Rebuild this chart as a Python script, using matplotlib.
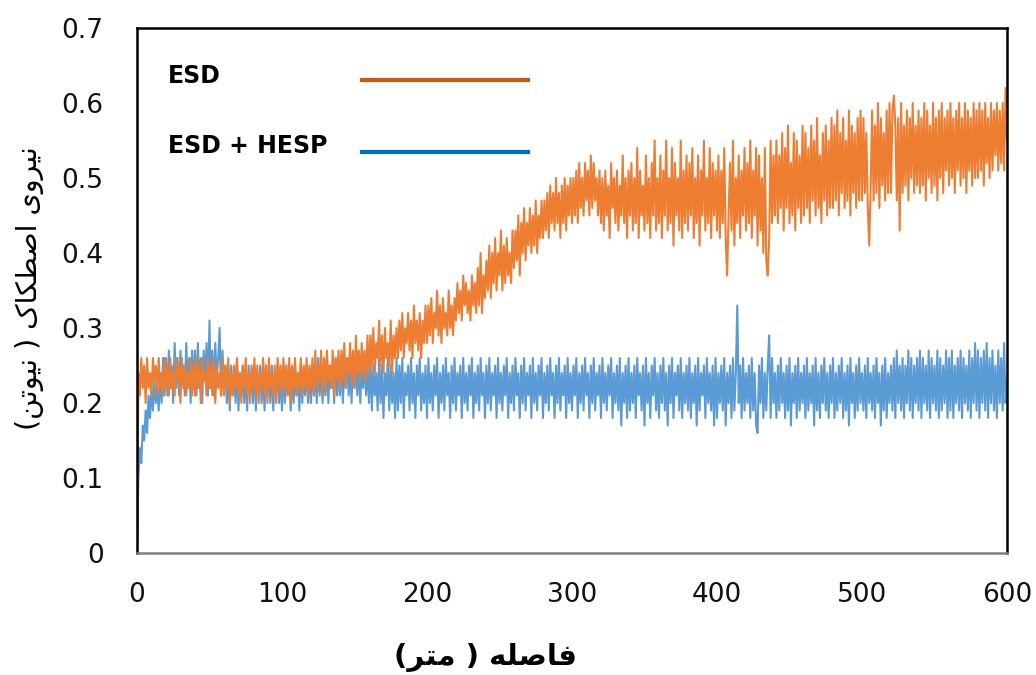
import numpy as np
import matplotlib.pyplot as plt

# distance in metres, one reading per metre
distance = np.arange(0, 601, 1)

# friction force (N), ESD coating; one row = 20 m
esd = [
    0.00, 0.24, 0.21, 0.26, 0.22, 0.25, 0.20, 0.26, 0.22, 0.24, 0.21, 0.26, 0.23, 0.25, 0.21, 0.26, 0.22, 0.24, 0.21, 0.26,
    0.22, 0.25, 0.21, 0.26, 0.22, 0.24, 0.21, 0.26, 0.23, 0.25, 0.20, 0.26, 0.22, 0.25, 0.21, 0.24, 0.22, 0.26, 0.21, 0.25,
    0.21, 0.26, 0.22, 0.25, 0.20, 0.26, 0.23, 0.24, 0.21, 0.26, 0.22, 0.25, 0.21, 0.26, 0.20, 0.25, 0.22, 0.24, 0.21, 0.26,
    0.21, 0.25, 0.22, 0.26, 0.20, 0.24, 0.21, 0.25, 0.22, 0.26, 0.21, 0.24, 0.20, 0.25, 0.22, 0.26, 0.21, 0.24, 0.20, 0.25,
    0.22, 0.26, 0.21, 0.25, 0.20, 0.24, 0.22, 0.26, 0.21, 0.25, 0.20, 0.26, 0.22, 0.24, 0.21, 0.25, 0.20, 0.26, 0.22, 0.25,
    0.21, 0.26, 0.22, 0.25, 0.21, 0.26, 0.20, 0.25, 0.22, 0.26, 0.21, 0.24, 0.22, 0.26, 0.21, 0.25, 0.22, 0.26, 0.21, 0.25,
    0.22, 0.26, 0.21, 0.27, 0.22, 0.25, 0.23, 0.27, 0.21, 0.26, 0.22, 0.27, 0.23, 0.25, 0.22, 0.27, 0.21, 0.26, 0.23, 0.27,
    0.22, 0.27, 0.23, 0.28, 0.22, 0.26, 0.24, 0.28, 0.23, 0.27, 0.22, 0.29, 0.24, 0.27, 0.23, 0.28, 0.24, 0.27, 0.23, 0.29,
    0.24, 0.29, 0.25, 0.30, 0.24, 0.28, 0.26, 0.31, 0.25, 0.29, 0.24, 0.30, 0.26, 0.28, 0.25, 0.31, 0.24, 0.29, 0.26, 0.30,
    0.26, 0.31, 0.27, 0.32, 0.26, 0.30, 0.28, 0.32, 0.27, 0.31, 0.26, 0.33, 0.28, 0.31, 0.27, 0.32, 0.26, 0.31, 0.28, 0.33,
    0.28, 0.33, 0.29, 0.34, 0.28, 0.32, 0.30, 0.35, 0.29, 0.33, 0.28, 0.34, 0.30, 0.32, 0.29, 0.35, 0.30, 0.33, 0.29, 0.34,
    0.31, 0.36, 0.32, 0.35, 0.31, 0.37, 0.33, 0.36, 0.32, 0.35, 0.31, 0.37, 0.33, 0.36, 0.32, 0.38, 0.33, 0.40, 0.32, 0.37,
    0.34, 0.39, 0.35, 0.41, 0.34, 0.40, 0.36, 0.42, 0.35, 0.40, 0.37, 0.43, 0.35, 0.41, 0.36, 0.42, 0.37, 0.40, 0.36, 0.43,
    0.38, 0.43, 0.39, 0.45, 0.37, 0.44, 0.40, 0.46, 0.39, 0.44, 0.41, 0.46, 0.40, 0.45, 0.41, 0.47, 0.40, 0.45, 0.42, 0.47,
    0.42, 0.47, 0.43, 0.48, 0.42, 0.49, 0.44, 0.48, 0.43, 0.50, 0.44, 0.48, 0.42, 0.49, 0.44, 0.50, 0.43, 0.49, 0.45, 0.50,
    0.44, 0.50, 0.45, 0.51, 0.44, 0.52, 0.46, 0.50, 0.45, 0.52, 0.47, 0.51, 0.45, 0.53, 0.46, 0.52, 0.47, 0.50, 0.45, 0.51,
    0.44, 0.50, 0.43, 0.51, 0.45, 0.49, 0.42, 0.52, 0.46, 0.50, 0.44, 0.51, 0.43, 0.49, 0.45, 0.53, 0.44, 0.50, 0.42, 0.51,
    0.45, 0.52, 0.43, 0.50, 0.44, 0.54, 0.42, 0.51, 0.45, 0.49, 0.43, 0.53, 0.44, 0.50, 0.42, 0.52, 0.45, 0.55, 0.43, 0.50,
    0.44, 0.53, 0.42, 0.51, 0.45, 0.55, 0.43, 0.50, 0.44, 0.54, 0.41, 0.52, 0.45, 0.50, 0.43, 0.55, 0.42, 0.51, 0.44, 0.53,
    0.43, 0.52, 0.45, 0.54, 0.42, 0.50, 0.44, 0.53, 0.41, 0.51, 0.45, 0.55, 0.43, 0.50, 0.44, 0.54, 0.42, 0.52, 0.45, 0.51,
    0.43, 0.53, 0.42, 0.51, 0.44, 0.54, 0.42, 0.37, 0.45, 0.52, 0.43, 0.55, 0.41, 0.50, 0.44, 0.53, 0.42, 0.51, 0.45, 0.54,
    0.43, 0.52, 0.44, 0.55, 0.42, 0.51, 0.45, 0.54, 0.41, 0.53, 0.43, 0.50, 0.40, 0.54, 0.39, 0.37, 0.42, 0.55, 0.44, 0.53,
    0.45, 0.55, 0.44, 0.53, 0.46, 0.56, 0.43, 0.54, 0.46, 0.57, 0.44, 0.52, 0.45, 0.56, 0.43, 0.55, 0.46, 0.53, 0.44, 0.57,
    0.45, 0.56, 0.46, 0.54, 0.44, 0.57, 0.47, 0.55, 0.45, 0.58, 0.46, 0.53, 0.44, 0.56, 0.47, 0.57, 0.45, 0.55, 0.46, 0.58,
    0.46, 0.57, 0.47, 0.59, 0.45, 0.56, 0.48, 0.58, 0.46, 0.55, 0.47, 0.59, 0.45, 0.57, 0.48, 0.56, 0.46, 0.58, 0.47, 0.59,
    0.47, 0.58, 0.48, 0.56, 0.46, 0.41, 0.49, 0.59, 0.47, 0.57, 0.48, 0.60, 0.46, 0.58, 0.49, 0.56, 0.47, 0.59, 0.48, 0.60,
    0.48, 0.59, 0.61, 0.57, 0.47, 0.58, 0.43, 0.60, 0.48, 0.57, 0.49, 0.59, 0.47, 0.58, 0.50, 0.60, 0.48, 0.57, 0.49, 0.59,
    0.48, 0.58, 0.49, 0.60, 0.47, 0.59, 0.50, 0.57, 0.48, 0.60, 0.49, 0.58, 0.47, 0.59, 0.50, 0.60, 0.48, 0.58, 0.51, 0.59,
    0.49, 0.60, 0.50, 0.58, 0.48, 0.59, 0.51, 0.60, 0.49, 0.58, 0.50, 0.60, 0.48, 0.59, 0.51, 0.58, 0.49, 0.60, 0.50, 0.59,
    0.50, 0.60, 0.51, 0.59, 0.49, 0.60, 0.52, 0.58, 0.50, 0.60, 0.51, 0.59, 0.53, 0.60, 0.51, 0.59, 0.52, 0.60, 0.51, 0.62,
    0.55,
]

# friction force (N), ESD + HESP coating; one row = 20 m
esd_hesp = [
    0.00, 0.10, 0.14, 0.12, 0.17, 0.15, 0.19, 0.16, 0.21, 0.18, 0.22, 0.19, 0.23, 0.20, 0.22, 0.19, 0.24, 0.20, 0.26, 0.21,
    0.26, 0.21, 0.27, 0.22, 0.25, 0.20, 0.28, 0.22, 0.26, 0.21, 0.27, 0.23, 0.25, 0.21, 0.28, 0.22, 0.26, 0.20, 0.27, 0.22,
    0.27, 0.21, 0.28, 0.22, 0.26, 0.20, 0.27, 0.23, 0.28, 0.21, 0.31, 0.22, 0.27, 0.21, 0.28, 0.23, 0.26, 0.30, 0.21, 0.27,
    0.22, 0.25, 0.20, 0.24, 0.19, 0.25, 0.21, 0.24, 0.20, 0.25, 0.19, 0.24, 0.21, 0.25, 0.20, 0.24, 0.19, 0.25, 0.21, 0.24,
    0.20, 0.25, 0.19, 0.24, 0.21, 0.25, 0.20, 0.24, 0.19, 0.25, 0.21, 0.24, 0.20, 0.25, 0.19, 0.24, 0.21, 0.25, 0.20, 0.24,
    0.19, 0.25, 0.20, 0.24, 0.21, 0.25, 0.19, 0.24, 0.20, 0.25, 0.21, 0.24, 0.19, 0.25, 0.20, 0.24, 0.21, 0.25, 0.20, 0.24,
    0.20, 0.25, 0.21, 0.24, 0.20, 0.26, 0.21, 0.25, 0.20, 0.24, 0.21, 0.26, 0.20, 0.25, 0.22, 0.24, 0.20, 0.26, 0.21, 0.25,
    0.21, 0.26, 0.20, 0.25, 0.22, 0.26, 0.21, 0.25, 0.20, 0.26, 0.22, 0.25, 0.21, 0.26, 0.20, 0.25, 0.22, 0.26, 0.21, 0.25,
    0.20, 0.26, 0.19, 0.25, 0.21, 0.24, 0.19, 0.26, 0.20, 0.25, 0.18, 0.24, 0.21, 0.26, 0.19, 0.25, 0.20, 0.24, 0.18, 0.26,
    0.19, 0.25, 0.20, 0.26, 0.18, 0.24, 0.21, 0.25, 0.19, 0.26, 0.20, 0.24, 0.18, 0.25, 0.21, 0.26, 0.19, 0.24, 0.20, 0.25,
    0.18, 0.26, 0.20, 0.24, 0.19, 0.25, 0.21, 0.26, 0.18, 0.24, 0.20, 0.25, 0.19, 0.26, 0.21, 0.24, 0.18, 0.25, 0.20, 0.26,
    0.19, 0.24, 0.21, 0.25, 0.18, 0.26, 0.20, 0.24, 0.19, 0.25, 0.21, 0.26, 0.18, 0.24, 0.20, 0.25, 0.19, 0.26, 0.21, 0.24,
    0.18, 0.25, 0.20, 0.26, 0.19, 0.24, 0.21, 0.25, 0.18, 0.26, 0.20, 0.24, 0.19, 0.25, 0.21, 0.26, 0.18, 0.24, 0.20, 0.25,
    0.19, 0.26, 0.21, 0.24, 0.18, 0.25, 0.20, 0.26, 0.19, 0.24, 0.21, 0.25, 0.18, 0.26, 0.20, 0.24, 0.19, 0.25, 0.21, 0.26,
    0.18, 0.24, 0.20, 0.25, 0.19, 0.26, 0.21, 0.24, 0.18, 0.25, 0.20, 0.26, 0.19, 0.24, 0.21, 0.25, 0.18, 0.26, 0.20, 0.24,
    0.19, 0.25, 0.21, 0.26, 0.18, 0.24, 0.20, 0.25, 0.19, 0.26, 0.21, 0.24, 0.18, 0.25, 0.20, 0.26, 0.19, 0.24, 0.21, 0.25,
    0.18, 0.26, 0.20, 0.24, 0.19, 0.25, 0.21, 0.26, 0.18, 0.24, 0.20, 0.25, 0.19, 0.26, 0.17, 0.24, 0.20, 0.25, 0.18, 0.26,
    0.19, 0.24, 0.20, 0.25, 0.18, 0.26, 0.21, 0.24, 0.19, 0.25, 0.17, 0.26, 0.20, 0.24, 0.18, 0.25, 0.21, 0.26, 0.19, 0.24,
    0.18, 0.25, 0.20, 0.26, 0.19, 0.24, 0.17, 0.25, 0.20, 0.26, 0.18, 0.24, 0.21, 0.25, 0.19, 0.26, 0.18, 0.24, 0.20, 0.25,
    0.19, 0.26, 0.18, 0.24, 0.20, 0.25, 0.17, 0.26, 0.19, 0.24, 0.21, 0.25, 0.18, 0.26, 0.20, 0.24, 0.19, 0.25, 0.17, 0.26,
    0.18, 0.24, 0.20, 0.25, 0.19, 0.26, 0.17, 0.24, 0.20, 0.25, 0.18, 0.26, 0.19, 0.24, 0.33, 0.20, 0.25, 0.18, 0.26, 0.19,
    0.24, 0.20, 0.25, 0.18, 0.26, 0.19, 0.24, 0.17, 0.16, 0.25, 0.20, 0.26, 0.18, 0.24, 0.19, 0.25, 0.29, 0.18, 0.26, 0.20,
    0.24, 0.18, 0.25, 0.19, 0.26, 0.20, 0.24, 0.18, 0.25, 0.19, 0.26, 0.17, 0.24, 0.20, 0.25, 0.18, 0.26, 0.19, 0.24, 0.20,
    0.25, 0.18, 0.26, 0.19, 0.24, 0.20, 0.25, 0.17, 0.26, 0.19, 0.24, 0.18, 0.25, 0.20, 0.26, 0.19, 0.24, 0.18, 0.25, 0.20,
    0.26, 0.18, 0.24, 0.19, 0.25, 0.20, 0.26, 0.18, 0.24, 0.19, 0.25, 0.17, 0.26, 0.20, 0.24, 0.18, 0.25, 0.19, 0.26, 0.20,
    0.24, 0.19, 0.25, 0.18, 0.26, 0.20, 0.24, 0.19, 0.25, 0.18, 0.26, 0.20, 0.24, 0.17, 0.25, 0.19, 0.26, 0.18, 0.24, 0.20,
    0.25, 0.19, 0.26, 0.18, 0.27, 0.20, 0.25, 0.19, 0.26, 0.18, 0.25, 0.20, 0.27, 0.19, 0.26, 0.18, 0.25, 0.20, 0.26, 0.19,
    0.27, 0.18, 0.26, 0.20, 0.25, 0.19, 0.27, 0.18, 0.26, 0.20, 0.25, 0.19, 0.27, 0.18, 0.26, 0.19, 0.25, 0.20, 0.27, 0.18,
    0.26, 0.19, 0.27, 0.18, 0.25, 0.20, 0.26, 0.19, 0.27, 0.18, 0.26, 0.20, 0.25, 0.19, 0.27, 0.18, 0.26, 0.20, 0.28, 0.19,
    0.27, 0.18, 0.26, 0.20, 0.27, 0.19, 0.28, 0.18, 0.26, 0.20, 0.27, 0.19, 0.25, 0.18, 0.27, 0.20, 0.26, 0.19, 0.28, 0.20,
    0.23,
]

x_ticks = [0, 100, 200, 300, 400, 500, 600]
y_ticks = [0, 0.1, 0.2, 0.3, 0.4, 0.5, 0.6, 0.7]

# Persian labels written in presentation forms, visual (left-to-right) order
xlabel = '(\uFEAE\uFE98\uFEE3 ) \uFEEA\uFEE0\uFEBB\uFE8E\uFED3'
ylabel = ('(\uFEE6\uFE97\uFEEE\uFBFF\uFEE7 ) '
          '\uFB8E\uFE8E\uFB91\uFEC4\uFEBB\uFE8D '
          '\uFBFC\uFEED\uFEAE\uFBFF\uFEE7')

fig = plt.figure(figsize=(10.36, 6.75), dpi=100)
ax = fig.add_axes([0.1322, 0.1807, 0.8398, 0.7778])

ax.plot(distance, esd_hesp, color='#5B9BD5', lw=1.5)
ax.plot(distance, esd, color='#ED7D31', lw=1.5)

ax.set_xlim(0, 600)
ax.set_ylim(0, 0.7)
ax.set_xticks(x_ticks)
ax.set_yticks(y_ticks)
ax.set_xticklabels([str(v) for v in x_ticks])
ax.set_yticklabels(['0'] + ['%.1f' % v for v in y_ticks[1:]])
ax.tick_params(length=0, labelsize=19, colors='#111111')
ax.tick_params(axis='x', pad=21)
ax.tick_params(axis='y', pad=24)
for lab in ax.get_xticklabels() + ax.get_yticklabels():
    lab.set_family(['DejaVu Sans'])

for side in ['top', 'right', 'left']:
    ax.spines[side].set_color('black')
    ax.spines[side].set_linewidth(1.8)
ax.spines['bottom'].set_color('#7f7f7f')
ax.spines['bottom'].set_linewidth(1.8)

# hand-placed key
ax.text(0.036, 0.908, 'ESD', transform=ax.transAxes, fontsize=17,
        fontweight='bold', va='center', family=['DejaVu Sans'])
ax.text(0.036, 0.776, 'ESD + HESP', transform=ax.transAxes, fontsize=17,
        fontweight='bold', va='center', family=['DejaVu Sans'])
ax.plot([0.259, 0.449], [0.901, 0.901], transform=ax.transAxes,
        color='#C55A11', lw=3)
ax.plot([0.259, 0.449], [0.764, 0.764], transform=ax.transAxes,
        color='#0070C0', lw=3)

fig.text(485 / 1036, 1 - 657 / 675, xlabel, ha='center', va='center',
         fontsize=21, fontweight='bold', family=['DejaVu Sans'])
fig.text(30 / 1036, 1 - 288 / 675, ylabel, ha='center', va='center',
         rotation=90, fontsize=20.5, family=['DejaVu Sans'])

fig.savefig('out.png', dpi=100)
